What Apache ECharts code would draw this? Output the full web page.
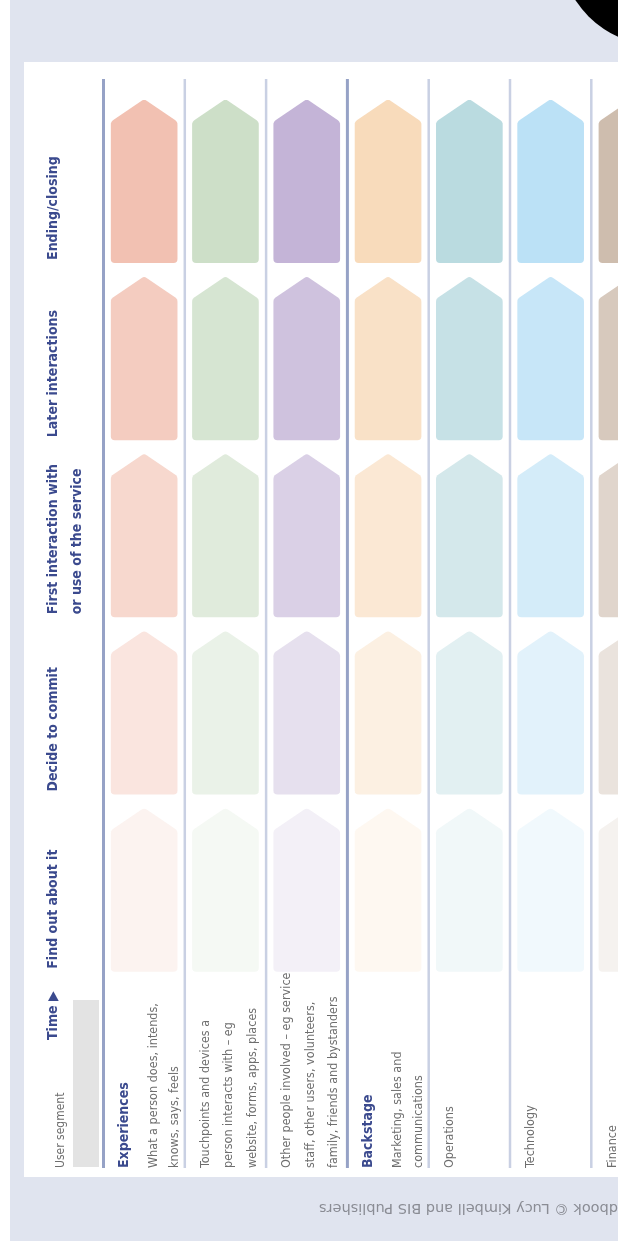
<!DOCTYPE html>
<html>
<head>
<meta charset="utf-8">
<script src="https://cdn.jsdelivr.net/npm/echarts@6/dist/echarts.min.js"></script>
<style>
  html, body { margin: 0; padding: 0; background: #fff; }
  #chart { width: 618px; height: 1251px; }
</style>
</head>
<body>
<div id="chart"></div>
<script>
// phases run bottom -> top, rows run left -> right (the page is turned on its side)
const phases = ['Find out about it', 'Decide to commit', 'First interaction with\nor use of the service', 'Later interactions', 'Ending/closing'];
const phaseIntensity = [0.2, 0.42, 0.63, 0.82, 1];
const rows = ['experiences', 'touchpoints', 'people', 'marketing', 'operations', 'technology', 'finance'];
const rowTitles = ['Experiences', '', '', 'Backstage', '', '', ''];
const rowNotes = [
  ['What a person does, intends,', 'knows, says, feels'],
  ['Touchpoints and devices a', 'person interacts with – eg', 'website, forms, apps, places'],
  ['Other people involved – eg service', 'staff, other users, volunteers,', 'family, friends and bystanders'],
  ['Marketing, sales and', 'communications'],
  ['Operations'],
  ['Technology'],
  ['Finance']
];
const rowColors = ['#f2c1b2', '#cddfc8', '#c4b4d7', '#f8dbbb', '#badbe0', '#bbe1f6', '#cebdae'];

const NARROW = "'Liberation Sans Narrow', 'DejaVu Sans Condensed', Roboto, sans-serif";
const NAVY = '#3b4a8e';
const GREY = '#6e6e6e';

const cells = [];
rows.forEach((r, i) => phases.forEach((p, j) => cells.push([i, j, phaseIntensity[j]])));

// blend a colour with white, like a tint on paper
function tint(hex, a) {
  const n = parseInt(hex.slice(1), 16);
  const ch = [n >> 16, (n >> 8) & 255, n & 255].map(v => Math.round(255 - (255 - v) * a));
  return `rgb(${ch.join(',')})`;
}

function roundedPoly(pts, radii) {
  const out = [];
  const n = pts.length;
  for (let k = 0; k < n; k++) {
    const p = pts[k], prev = pts[(k + n - 1) % n], next = pts[(k + 1) % n];
    const r = radii[k];
    const d1 = Math.hypot(prev[0] - p[0], prev[1] - p[1]);
    const d2 = Math.hypot(next[0] - p[0], next[1] - p[1]);
    const a = [p[0] + (prev[0] - p[0]) * r / d1, p[1] + (prev[1] - p[1]) * r / d1];
    const b = [p[0] + (next[0] - p[0]) * r / d2, p[1] + (next[1] - p[1]) * r / d2];
    for (let t = 0; t <= 1.001; t += 0.25) {
      const u = 1 - t;
      out.push([u * u * a[0] + 2 * u * t * p[0] + t * t * b[0], u * u * a[1] + 2 * u * t * p[1] + t * t * b[1]]);
    }
  }
  return out;
}

function renderCell(params, api) {
  const row = api.value(0);
  const c = api.coord([row, api.value(1)]);
  const s = api.size([1, 1]);
  const hw = s[0] * 0.41, hh = s[1] * 0.4625, drop = hw * 0.68;
  const top = c[1] - hh, bot = c[1] + hh;
  const pts = [[c[0], top], [c[0] + hw, top + drop], [c[0] + hw, bot], [c[0] - hw, bot], [c[0] - hw, top + drop]];
  return {
    type: 'polygon',
    shape: { points: roundedPoly(pts, [3, 3, 4, 4, 3]) },
    style: { fill: tint(rowColors[row], api.value(2)) }
  };
}

function renderDivider(params, api) {
  const k = api.value(0);
  const x = api.coord([k, 0])[0] - api.size([1, 0])[0] / 2;
  const dark = !!rowTitles[k];
  return {
    type: 'line',
    shape: { x1: x, y1: 79, x2: x, y2: 1168 },
    style: { stroke: dark ? '#96a2c6' : '#c9d0e3', lineWidth: dark ? 3 : 2.5 }
  };
}

function renderPhaseLabel(params, api) {
  const j = api.value(1);
  const c = api.coord([0, j]);
  const s = api.size([1, 1]);
  return {
    type: 'text',
    x: c[0] - s[0] / 2 - 62.5,
    y: c[1] + s[1] * 0.4625 - 3,
    rotation: Math.PI / 2,
    style: {
      text: phases[j],
      fill: NAVY,
      font: `bold 14px ${NARROW}`,
      lineHeight: 24,
      align: 'left',
      verticalAlign: 'top'
    }
  };
}

function renderRowLabel(params, api) {
  const i = api.value(0);
  const left = api.coord([i, 0])[0] - api.size([1, 0])[0] / 2;
  const children = [];
  let off = 21;
  if (rowTitles[i]) {
    children.push({
      type: 'text', x: left + off, y: 1168, rotation: Math.PI / 2,
      style: { text: rowTitles[i], fill: NAVY, font: `bold 14px ${NARROW}`, align: 'left', verticalAlign: 'middle' }
    });
    off += 29;
  }
  rowNotes[i].forEach((line) => {
    children.push({
      type: 'text', x: left + off, y: 1168, rotation: Math.PI / 2,
      style: { text: line, fill: GREY, font: `12.5px ${NARROW}`, align: 'left', verticalAlign: 'middle' }
    });
    off += rowTitles[i] ? 21.5 : 23.3;
  });
  return { type: 'group', children };
}

const chart = echarts.init(document.getElementById('chart'), null, { renderer: 'canvas' });

chart.setOption({
  animation: false,
  backgroundColor: '#ffffff',
  grid: { left: 103.5, top: 92.4, width: 569.1, height: 886, outerBoundsMode: 'none', containLabel: false },
  xAxis: { type: 'category', data: rows, show: false },
  yAxis: { type: 'category', data: phases, show: false },
  graphic: [
    { type: 'rect', z: -10, shape: { x: 10, y: 0, width: 608, height: 1241 }, style: { fill: '#e0e4ef' } },
    { type: 'rect', z: -9, shape: { x: 24, y: 62, width: 594, height: 1115 }, style: { fill: '#ffffff' } },
    { type: 'circle', z: -8, shape: { cx: 660, cy: -55, r: 101 }, style: { fill: '#000000' } },
    { type: 'rect', z: -8, shape: { x: 73, y: 1000, width: 26, height: 167 }, style: { fill: '#e3e3e3' } },
    {
      type: 'text', x: 53, y: 1040, rotation: Math.PI / 2,
      style: { text: 'Time ▶', fill: NAVY, font: `bold 14px ${NARROW}`, align: 'left', verticalAlign: 'middle' }
    },
    {
      type: 'text', x: 61, y: 1168, rotation: Math.PI / 2,
      style: { text: 'User segment', fill: GREY, font: `12px ${NARROW}`, align: 'left', verticalAlign: 'middle' }
    },
    {
      type: 'text', x: 319, y: 1208, rotation: Math.PI,
      style: { text: 'The Service Innovation Handbook © Lucy Kimbell and BIS Publishers', fill: '#8a8c94', font: "14.5px 'DejaVu Sans', sans-serif", align: 'right', verticalAlign: 'middle' }
    }
  ],
  series: [
    {
      type: 'custom', name: 'dividers', coordinateSystem: 'cartesian2d', silent: true,
      renderItem: renderDivider,
      data: rows.map((r, k) => [k, 0])
    },
    {
      type: 'custom', name: 'cells', coordinateSystem: 'cartesian2d',
      renderItem: renderCell,
      encode: { x: 0, y: 1 },
      data: cells
    },
    {
      type: 'custom', name: 'phaseLabels', coordinateSystem: 'cartesian2d', silent: true,
      renderItem: renderPhaseLabel,
      data: phases.map((p, j) => [0, j])
    },
    {
      type: 'custom', name: 'rowLabels', coordinateSystem: 'cartesian2d', silent: true,
      renderItem: renderRowLabel,
      data: rows.map((r, i) => [i, 0])
    }
  ]
});
</script>
</body>
</html>
